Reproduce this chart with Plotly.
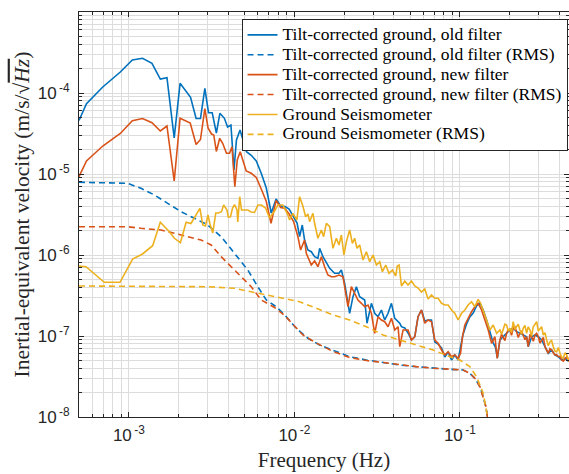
import numpy as np
import plotly.graph_objects as go

# ---------------- data ----------------
f_old = [5.0e-4, 5.55e-4, 6.96e-4, 8.88e-4, 1.05e-3, 1.21e-3, 1.38e-3, 1.55e-3, 1.70e-3, 1.88e-3,
         2.04e-3, 2.36e-3, 2.55e-3, 2.71e-3, 2.88e-3, 3.03e-3, 3.19e-3, 3.38e-3, 3.55e-3, 3.78e-3,
         3.95e-3, 4.14e-3, 4.32e-3, 4.47e-3, 4.70e-3, 4.93e-3, 5.14e-3, 5.51e-3, 5.89e-3, 6.31e-3,
         6.77e-3, 7.25e-3, 7.76e-3, 8.26e-3, 8.79e-3, 9.30e-3, 9.80e-3, 1.039e-2, 1.076e-2, 1.117e-2,
         1.153e-2, 1.208e-2, 1.266e-2, 1.326e-2, 1.388e-2, 1.422e-2, 1.489e-2, 1.561e-2, 1.635e-2, 1.752e-2,
         1.861e-2, 1.924e-2, 2.014e-2, 2.159e-2, 2.261e-2, 2.371e-2, 2.483e-2, 2.662e-2, 2.748e-2, 2.922e-2,
         3.059e-2, 3.203e-2, 3.359e-2, 3.517e-2, 3.683e-2, 3.861e-2, 4.043e-2, 4.335e-2, 4.439e-2, 4.648e-2,
         4.866e-2, 5.102e-2, 5.343e-2, 5.593e-2, 5.864e-2, 6.141e-2, 6.430e-2, 6.741e-2, 7.059e-2, 7.391e-2,
         7.750e-2, 8.114e-2, 8.496e-2, 8.908e-2, 9.326e-2, 9.766e-2, 0.1010, 0.1043, 0.1098, 0.1149,
         0.1204, 0.1262, 0.1322, 0.1384, 0.1451, 0.1519, 0.1590, 0.1640, 0.1686, 0.1746,
         0.1828, 0.1917, 0.2007, 0.2101, 0.2203, 0.2307, 0.2415, 0.2532, 0.2590, 0.2716,
         0.2844, 0.2978, 0.3122, 0.3269, 0.3422, 0.3589, 0.3758, 0.3934, 0.4125, 0.4319, 0.4566]
v_old = [4.58e-5, 7.38e-5, 1.186e-4, 1.816e-4, 2.555e-4, 2.682e-4, 2.326e-4, 1.488e-4, 1.545e-4, 2.783e-5,
         1.318e-4, 8.85e-5, 4.844e-5, 4.844e-5, 1.137e-4, 5.71e-5, 5.71e-5, 3.208e-5, 5.616e-5, 4.872e-5,
         3.804e-5, 4.026e-5, 1.121e-5, 2.63e-5, 3.494e-5, 2.413e-5, 1.885e-5, 1.692e-5, 1.447e-5, 1.020e-5,
         6.72e-6, 3.30e-6, 4.913e-6, 4.026e-6, 3.970e-6, 3.698e-6, 3.074e-6, 2.484e-6, 1.692e-6, 2.346e-6,
         1.531e-6, 1.153e-6, 1.098e-6, 9.53e-7, 9.105e-7, 1.210e-6, 9.53e-7, 7.90e-7, 6.85e-7, 5.945e-7,
         5.945e-7, 6.53e-7, 4.474e-7, 1.906e-7, 3.056e-7, 4.06e-7, 3.056e-7, 2.783e-7, 1.435e-7, 2.533e-7,
         1.906e-7, 1.731e-7, 2.094e-7, 1.576e-7, 1.906e-7, 2.533e-7, 1.654e-7, 1.435e-7, 1.303e-7, 1.255e-7,
         1.089e-7, 8.925e-8, 9.80e-8, 1.731e-7, 2.094e-7, 1.531e-7, 1.576e-7, 1.576e-7, 8.43e-8, 7.96e-8,
         7.11e-8, 5.505e-8, 6.345e-8, 5.055e-8, 5.83e-8, 5.055e-8, 7.74e-8, 1.029e-7, 1.406e-7, 1.716e-7,
         1.923e-7, 2.346e-7, 2.555e-7, 2.094e-7, 1.576e-7, 1.121e-7, 8.195e-8, 7.315e-8, 5.35e-8, 8.925e-8,
         9.80e-8, 1.08e-7, 1.186e-7, 1.245e-7, 1.13e-7, 1.08e-7, 1.029e-7, 9.80e-8, 7.38e-8, 9.80e-8,
         1.029e-7, 9.80e-8, 8.925e-8, 7.38e-8, 6.115e-8, 6.72e-8, 5.83e-8, 5.55e-8, 5.055e-8, 5.305e-8, 4.816e-8]

f_new = [5.0e-4, 5.55e-4, 6.96e-4, 8.88e-4, 1.05e-3, 1.21e-3, 1.38e-3, 1.55e-3, 1.70e-3, 1.88e-3,
         2.04e-3, 2.35e-3, 2.55e-3, 2.71e-3, 2.88e-3, 3.01e-3, 3.16e-3, 3.26e-3, 3.38e-3, 3.54e-3,
         3.69e-3, 3.89e-3, 4.06e-3, 4.20e-3, 4.37e-3, 4.52e-3, 4.71e-3, 4.90e-3, 5.12e-3, 5.49e-3,
         5.89e-3, 6.31e-3, 6.77e-3, 7.23e-3, 7.76e-3, 8.26e-3, 8.73e-3, 9.30e-3, 9.90e-3, 1.051e-2,
         1.091e-2, 1.153e-2, 1.181e-2, 1.266e-2, 1.326e-2, 1.388e-2, 1.456e-2, 1.524e-2, 1.596e-2, 1.674e-2,
         1.752e-2, 1.861e-2, 1.967e-2, 2.109e-2, 2.211e-2, 2.315e-2, 2.424e-2, 2.542e-2, 2.662e-2, 2.787e-2,
         2.922e-2, 3.059e-2, 3.203e-2, 3.359e-2, 3.517e-2, 3.683e-2, 3.861e-2, 4.043e-2, 4.233e-2, 4.335e-2,
         4.539e-2, 4.866e-2, 5.102e-2, 5.343e-2, 5.593e-2, 5.864e-2, 6.141e-2, 6.430e-2, 6.741e-2, 7.059e-2,
         7.391e-2, 7.750e-2, 8.114e-2, 8.496e-2, 8.908e-2, 9.326e-2, 9.766e-2, 0.1010, 0.1038, 0.1072,
         0.1122, 0.1177, 0.1232, 0.1290, 0.1353, 0.1417, 0.1484, 0.1556, 0.1629, 0.1682,
         0.1746, 0.1787, 0.1828, 0.1872, 0.1917, 0.1961, 0.2007, 0.2053, 0.2101, 0.2150,
         0.2203, 0.2254, 0.2307, 0.2360, 0.2415, 0.2472, 0.2532, 0.2590, 0.2650, 0.2716,
         0.2780, 0.2844, 0.2910, 0.2978, 0.3050, 0.3122, 0.3195, 0.3269, 0.3345, 0.3422,
         0.3505, 0.3589, 0.3670, 0.3758, 0.3845, 0.3934, 0.4030, 0.4125, 0.4220, 0.4319,
         0.4440, 0.4566]
v_new = [9.26e-6, 1.447e-5, 2.216e-5, 3.162e-5, 4.55e-5, 4.844e-5, 4.298e-5, 3.396e-5, 3.913e-5, 8.195e-6,
         4.872e-5, 4.262e-5, 2.313e-5, 2.666e-5, 6.435e-5, 3.698e-5, 3.117e-5, 3.03e-5, 1.896e-5, 2.759e-5,
         2.393e-5, 1.801e-5, 1.801e-5, 2.173e-5, 6.97e-6, 1.488e-5, 1.885e-5, 1.488e-5, 1.089e-5, 1.020e-5,
         9.05e-6, 6.53e-6, 4.576e-6, 2.463e-6, 4.707e-6, 3.858e-6, 3.772e-6, 3.208e-6, 2.592e-6, 1.682e-6,
         1.153e-6, 1.531e-6, 1.049e-6, 7.525e-7, 8.43e-7, 7.17e-7, 9.53e-7, 7.17e-7, 5.664e-7, 5.397e-7,
         5.397e-7, 5.664e-7, 5.397e-7, 2.299e-7, 4.06e-7, 3.367e-7, 2.783e-7, 2.533e-7, 2.299e-7, 2.413e-7,
         1.906e-7, 1.08e-7, 1.731e-7, 1.576e-7, 1.501e-7, 1.303e-7, 1.654e-7, 1.186e-7, 1.303e-7, 7.38e-8,
         1.186e-7, 1.186e-7, 8.925e-8, 9.80e-8, 1.731e-7, 2.094e-7, 1.435e-7, 1.576e-7, 1.501e-7, 8.925e-8,
         8.125e-8, 6.72e-8, 5.83e-8, 6.40e-8, 5.55e-8, 5.83e-8, 5.305e-8, 6.115e-8, 9.80e-8, 1.367e-7,
         1.654e-7, 1.995e-7, 2.299e-7, 2.533e-7, 2.094e-7, 1.576e-7, 1.186e-7, 8.125e-8, 9.80e-8, 5.305e-8,
         8.925e-8, 1.05e-7, 9.80e-8, 8.8e-8, 1.08e-7, 1.2e-7, 1.186e-7, 1.02e-7, 1.245e-7, 1.3e-7,
         1.13e-7, 9.6e-8, 1.08e-7, 1.15e-7, 1.029e-7, 9.0e-8, 9.80e-8, 7.38e-8, 1.05e-7, 9.80e-8,
         8.6e-8, 1.029e-7, 1.08e-7, 9.80e-8, 8.2e-8, 8.925e-8, 9.6e-8, 7.38e-8, 6.6e-8, 6.115e-8,
         7.0e-8, 6.72e-8, 6.2e-8, 5.83e-8, 5.9e-8, 5.55e-8, 5.6e-8, 5.055e-8, 4.9e-8, 5.305e-8,
         5.6e-8, 4.816e-8]

f_seis = [5.0e-4, 5.51e-4, 7.11e-4, 8.85e-4, 1.054e-3, 1.21e-3, 1.393e-3, 1.55e-3, 1.758e-3, 1.885e-3,
          2.049e-3, 2.219e-3, 2.373e-3, 2.55e-3, 2.689e-3, 2.797e-3, 2.904e-3, 3.007e-3, 3.092e-3, 3.215e-3,
          3.352e-3, 3.48e-3, 3.628e-3, 3.742e-3, 3.918e-3, 3.99e-3, 4.114e-3, 4.23e-3, 4.349e-3, 4.504e-3,
          4.554e-3, 4.677e-3, 4.795e-3, 5.236e-3, 5.475e-3, 5.748e-3, 6.018e-3, 6.31e-3, 6.699e-3, 7.083e-3,
          7.596e-3, 7.951e-3, 8.524e-3, 9.141e-3, 9.361e-3, 9.80e-3, 1.036e-2, 1.076e-2, 1.126e-2, 1.170e-2,
          1.208e-2, 1.237e-2, 1.295e-2, 1.326e-2, 1.388e-2, 1.456e-2, 1.503e-2, 1.561e-2, 1.635e-2, 1.712e-2,
          1.795e-2, 1.861e-2, 1.924e-2, 1.994e-2, 2.063e-2, 2.159e-2, 2.242e-2, 2.315e-2, 2.390e-2, 2.483e-2,
          2.599e-2, 2.725e-2, 2.853e-2, 2.988e-2, 3.133e-2, 3.281e-2, 3.406e-2, 3.567e-2, 3.734e-2, 3.915e-2,
          4.100e-2, 4.187e-2, 4.294e-2, 4.439e-2, 4.648e-2, 4.866e-2, 5.102e-2, 5.343e-2, 5.593e-2, 5.864e-2,
          6.141e-2, 6.430e-2, 6.741e-2, 7.059e-2, 7.391e-2, 7.750e-2, 8.114e-2, 8.496e-2, 8.908e-2, 9.326e-2,
          9.766e-2, 0.1024, 0.1072, 0.1122, 0.1177, 0.1232, 0.1290, 0.1335, 0.1384, 0.1451,
          0.1519, 0.1590, 0.1668, 0.1746, 0.1787, 0.1828, 0.1872, 0.1917, 0.1961, 0.2007,
          0.2053, 0.2101, 0.2150, 0.2203, 0.2254, 0.2307, 0.2360, 0.2415, 0.2472, 0.2532,
          0.2590, 0.2652, 0.2713, 0.2777, 0.2843, 0.2912, 0.2979, 0.3049, 0.3120, 0.3193,
          0.3268, 0.3346, 0.3424, 0.3504, 0.3585, 0.3669, 0.3757, 0.3848, 0.3937, 0.4029,
          0.4123, 0.4219, 0.4320, 0.4424, 0.4566]
v_seis = [7.315e-7, 7.17e-7, 4.603e-7, 4.603e-7, 8.925e-7, 1.029e-6, 1.303e-6, 2.533e-6, 1.940e-6, 1.608e-6,
          1.419e-6, 2.533e-6, 2.448e-6, 3.117e-6, 3.772e-6, 2.346e-6, 2.28e-6, 3.117e-6, 2.413e-6, 1.869e-6,
          3.30e-6, 3.30e-6, 3.425e-6, 4.142e-6, 3.594e-6, 2.945e-6, 2.972e-6, 3.772e-6, 4.202e-6, 3.594e-6,
          2.555e-6, 5.245e-6, 3.594e-6, 3.594e-6, 3.396e-6, 3.348e-6, 4.142e-6, 4.142e-6, 3.804e-6, 2.862e-6,
          3.494e-6, 4.142e-6, 4.142e-6, 3.117e-6, 2.704e-6, 3.272e-6, 2.704e-6, 5.245e-6, 4.026e-6, 2.972e-6,
          3.208e-6, 2.577e-6, 3.272e-6, 2.463e-6, 1.608e-6, 2.035e-6, 1.682e-6, 2.463e-6, 2.235e-6, 1.210e-6,
          1.608e-6, 1.329e-6, 1.766e-6, 1.0e-6, 1.459e-6, 2.035e-6, 1.394e-6, 1.608e-6, 1.210e-6, 1.329e-6,
          8.675e-7, 1.098e-6, 8.265e-7, 1.0e-6, 7.525e-7, 8.265e-7, 6.22e-7, 7.525e-7, 5.945e-7, 6.53e-7,
          5.505e-7, 7.315e-7, 7.525e-7, 4.142e-7, 4.775e-7, 4.262e-7, 4.775e-7, 4.142e-7, 3.913e-7, 3.494e-7,
          3.804e-7, 2.862e-7, 3.208e-7, 2.92e-7, 2.92e-7, 2.533e-7, 2.413e-7, 2.413e-7, 2.094e-7, 1.906e-7,
          1.576e-7, 1.906e-7, 2.094e-7, 2.413e-7, 2.651e-7, 2.299e-7, 2.838e-7, 2.533e-7, 2.094e-7, 1.576e-7,
          1.186e-7, 1.367e-7, 1.08e-7, 1.186e-7, 1.05e-7, 1.245e-7, 1.40e-7, 1.367e-7, 1.15e-7, 1.245e-7,
          1.10e-7, 1.501e-7, 1.20e-7, 1.303e-7, 1.40e-7, 1.186e-7, 1.05e-7, 1.245e-7, 1.35e-7, 1.08e-7,
          1.30e-7, 1.186e-7, 1.00e-7, 1.303e-7, 1.40e-7, 1.501e-7, 1.15e-7, 1.245e-7, 1.30e-7, 1.029e-7,
          1.10e-7, 8.925e-8, 7.6e-8, 8.505e-8, 8.8e-8, 7.38e-8, 6.5e-8, 6.40e-8, 7.2e-8, 6.115e-8,
          5.5e-8, 5.305e-8, 6.2e-8, 5.83e-8, 4.816e-8]

f_rms_old = [5.0e-4, 9.83e-4, 1.185e-3, 1.427e-3, 1.718e-3, 2.07e-3, 2.491e-3, 2.998e-3, 3.614e-3, 4.349e-3,
             5.236e-3, 6.018e-3, 6.77e-3, 7.778e-3, 8.939e-3, 1.027e-2, 1.208e-2, 1.422e-2, 1.712e-2, 2.159e-2,
             2.725e-2, 3.435e-2, 4.335e-2, 5.47e-2, 6.894e-2, 8.70e-2, 0.1047, 0.1149, 0.1232, 0.1322,
             0.1384, 0.1437, 0.1463, 0.148]
v_rms_old = [7.90e-6, 7.68e-6, 6.66e-6, 5.505e-6, 4.347e-6, 3.425e-6, 2.838e-6, 2.346e-6, 1.682e-6, 1.049e-6,
             6.53e-7, 4.06e-7, 2.783e-7, 2.299e-7, 1.731e-7, 1.245e-7, 9.37e-8, 7.74e-8, 6.72e-8, 5.55e-8,
             5.055e-8, 4.68e-8, 4.385e-8, 4.178e-8, 3.992e-8, 3.88e-8, 3.804e-8, 3.464e-8, 3.005e-8, 2.366e-8,
             1.781e-8, 1.340e-8, 1.059e-8, 1e-9]

f_rms_new = [5.0e-4, 9.83e-4, 1.185e-3, 1.566e-3, 1.885e-3, 2.269e-3, 2.735e-3, 3.144e-3, 3.614e-3, 4.154e-3,
             4.775e-3, 5.489e-3, 6.31e-3, 7.596e-3, 8.73e-3, 9.80e-3, 1.126e-2, 1.358e-2, 1.712e-2, 2.159e-2,
             2.725e-2, 3.435e-2, 4.335e-2, 5.47e-2, 6.894e-2, 8.70e-2, 0.1047, 0.1149, 0.1232, 0.1322,
             0.1384, 0.1437, 0.1463, 0.148]
v_rms_new = [2.235e-6, 2.235e-6, 2.135e-6, 2.035e-6, 1.853e-6, 1.682e-6, 1.531e-6, 1.329e-6, 9.53e-7, 7.17e-7,
             5.397e-7, 4.06e-7, 2.783e-7, 2.248e-7, 1.80e-7, 1.40e-7, 1.029e-7, 8.195e-8, 6.435e-8, 5.43e-8,
             4.984e-8, 4.70e-8, 4.40e-8, 4.19e-8, 4.0e-8, 3.89e-8, 3.81e-8, 3.47e-8, 3.01e-8, 2.37e-8,
             1.78e-8, 1.34e-8, 1.06e-8, 1e-9]

f_rms_seis = [5.0e-4, 1.331e-3, 2.998e-3, 4.349e-3, 5.748e-3, 7.596e-3, 8.524e-3, 1.076e-2, 1.358e-2, 1.712e-2,
              2.159e-2, 2.725e-2, 3.435e-2, 4.335e-2, 5.47e-2, 6.894e-2, 8.70e-2, 0.1000, 0.1149, 0.1262,
              0.1384, 0.1463, 0.148]
v_rms_seis = [4.142e-7, 4.107e-7, 4.06e-7, 3.88e-7, 3.443e-7, 3.074e-7, 2.92e-7, 2.651e-7, 2.198e-7, 1.816e-7,
              1.576e-7, 1.303e-7, 1.029e-7, 8.925e-8, 7.74e-8, 6.72e-8, 5.55e-8, 5.055e-8, 4.178e-8, 3.145e-8,
              1.962e-8, 1.059e-8, 1e-9]

x_tickvals = [1e-3, 1e-2, 1e-1]
x_ticktext = ["10<sup>\u2009-3</sup>", "10<sup>\u2009-2</sup>", "10<sup>\u2009-1</sup>"]
y_tickvals = [1e-8, 1e-7, 1e-6, 1e-5, 1e-4, 1e-3]
y_ticktext = ["10<sup>\u2009-8</sup>", "10<sup>\u2009-7</sup>", "10<sup>\u2009-6</sup>",
              "10<sup>\u2009-5</sup>", "10<sup>\u2009-4</sup>", "10<sup>\u2009-3</sup>"]

names = ["Tilt-corrected ground, old filter", "Tilt-corrected ground, old filter (RMS)",
         "Tilt-corrected ground, new filter", "Tilt-corrected ground, new filter (RMS)",
         "Ground Seismometer", "Ground Seismometer (RMS)"]

# ---------------- figure ----------------
BLUE, RED, GOLD = "#0072BD", "#D95319", "#EDB120"
LW = 1.6
DASH = "6px,4px"
SERIF = "Liberation Serif, Times New Roman, serif"

fig = go.Figure()
series = [
    (f_old, v_old, BLUE, "solid"), (f_rms_old, v_rms_old, BLUE, DASH),
    (f_new, v_new, RED, "solid"), (f_rms_new, v_rms_new, RED, DASH),
    (f_seis, v_seis, GOLD, "solid"), (f_rms_seis, v_rms_seis, GOLD, DASH),
]
for (fx, vy, col, dash), nm in zip(series, names):
    fig.add_trace(go.Scatter(x=fx, y=vy, mode="lines",
                             name='<span style="font-size:17.5px">' + nm + '</span>',
                             line=dict(color=col, width=LW, dash=dash)))

AX = "#262626"
GRID = "#dcdcdc"
tickfont = dict(family="Liberation Sans, Arial, sans-serif", size=17, color=AX)

common = dict(type="log", showline=True, linecolor=AX, linewidth=1, mirror="ticks",
              ticks="inside", ticklen=5, tickcolor=AX, tickwidth=1,
              showgrid=True, gridcolor=GRID, gridwidth=1, zeroline=False,
              tickfont=tickfont,
              minor=dict(ticks="inside", ticklen=3, tickcolor=AX, showgrid=True,
                         gridcolor=GRID, gridwidth=1, dtick="D1"))

fig.update_xaxes(range=[np.log10(5e-4), np.log10(0.4566)], tickmode="array",
                 tickvals=x_tickvals, ticktext=x_ticktext, ticklabelstandoff=3,
                 title=dict(text="Frequency (Hz)",
                            font=dict(family=SERIF, size=21, color=AX), standoff=7),
                 **common)
fig.update_yaxes(range=[-8, -3], tickmode="array", tickvals=y_tickvals, ticktext=y_ticktext,
                 ticklabelstandoff=5,
                 title=dict(text="Inertial-equivalent velocity (m/s/\u221a<span style=\"text-decoration:overline\"><i>Hz</i></span>)",
                            font=dict(family=SERIF, size=21.5, color=AX), standoff=2),
                 **common)

fig.update_layout(
    width=569, height=474,
    margin=dict(l=79, r=0, t=12, b=57, pad=0),
    paper_bgcolor="white", plot_bgcolor="white",
    legend=dict(x=0.997, xanchor="right", y=0.983, yanchor="top",
                bgcolor="white", bordercolor=AX, borderwidth=1,
                font=dict(family=SERIF, size=13, color="black"),
                tracegroupgap=0, itemwidth=30),
)

fig.write_html("out.html")
